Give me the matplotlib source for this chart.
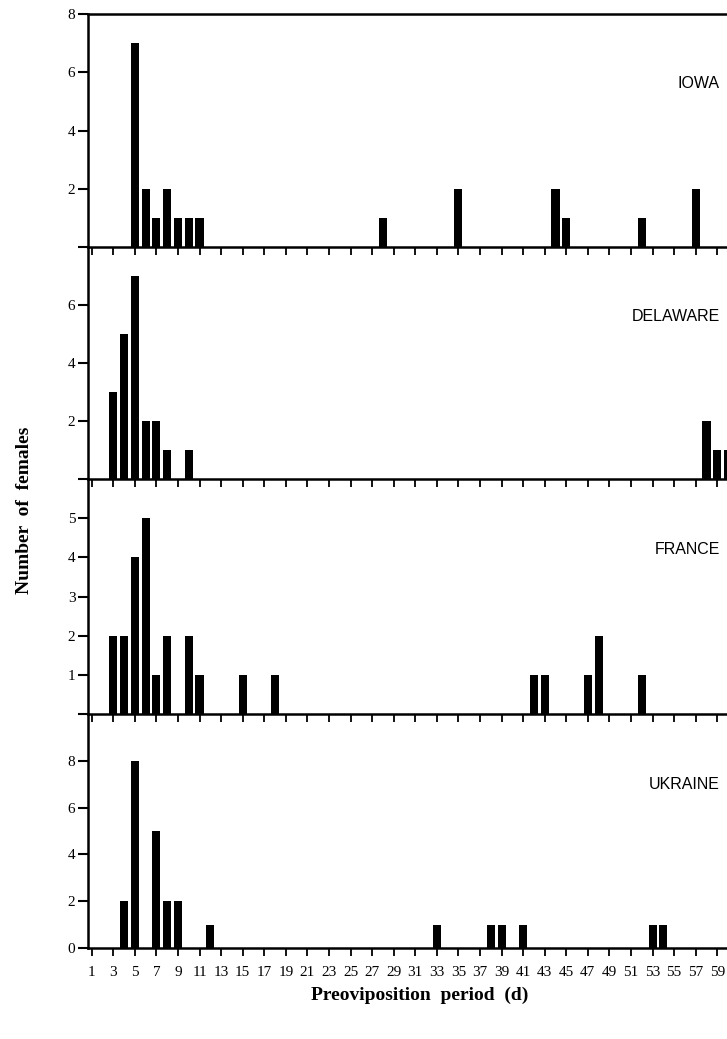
import matplotlib.pyplot as plt

# preoviposition period (days) and number of females, per population
iowa_days = [5, 6, 7, 8, 9, 10, 11, 28, 35, 44, 45, 52, 57]
iowa_n = [7, 2, 1, 2, 1, 1, 1, 1, 2, 2, 1, 1, 2]

delaware_days = [3, 4, 5, 6, 7, 8, 10, 58, 59, 60]
delaware_n = [3, 5, 7, 2, 2, 1, 1, 2, 1, 1]

france_days = [3, 4, 5, 6, 7, 8, 10, 11, 15, 18, 42, 43, 47, 48, 52]
france_n = [2, 2, 4, 5, 1, 2, 2, 1, 1, 1, 1, 1, 1, 2, 1]

ukraine_days = [4, 5, 7, 8, 9, 12, 33, 38, 39, 41, 53, 54]
ukraine_n = [2, 8, 5, 2, 2, 1, 1, 1, 1, 1, 1, 1]

names = ["IOWA", "DELAWARE", "FRANCE", "UKRAINE"]
days = [iowa_days, delaware_days, france_days, ukraine_days]
counts = [iowa_n, delaware_n, france_n, ukraine_n]
ymax = [8, 8, 6, 10]
yticks = [[0, 2, 4, 6, 8], [0, 2, 4, 6], [0, 1, 2, 3, 4, 5], [0, 2, 4, 6, 8]]
show_zero = [False, False, False, True]
xticks = list(range(1, 60, 2))

W, H = 727, 1039
fig = plt.figure(figsize=(W / 100, H / 100), dpi=100)

left = 88 / W
right = 1.0
tops = [14, 247, 479, 714, 948]

for i in range(4):
    y0 = 1 - tops[i + 1] / H
    h = (tops[i + 1] - tops[i]) / H
    ax = fig.add_axes([left, y0, right - left, h])
    ax.patch.set_visible(False)  # so the lower panel does not hide the ticks above it

    ax.bar(days[i], counts[i], width=0.75, color="black", zorder=3)
    ax.set_xlim(0.66, 59.9)
    ax.set_ylim(0, ymax[i])

    ax.spines["right"].set_visible(False)
    if i > 0:
        ax.spines["top"].set_visible(False)
    for s in ["left", "bottom", "top"]:
        ax.spines[s].set_linewidth(1.8)

    ax.set_yticks(yticks[i])
    labels = [str(t) for t in yticks[i]]
    if not show_zero[i]:
        labels[0] = ""
    ax.set_yticklabels(labels, fontfamily="Liberation Serif", fontsize=11)
    ax.tick_params(axis="y", direction="out", length=7, width=1.5, pad=2)

    ax.set_xticks(xticks)
    if i == 3:
        ax.set_xticklabels([str(t) for t in xticks], fontfamily="Liberation Serif", fontsize=11)
    else:
        ax.set_xticklabels([])
    ax.tick_params(axis="x", direction="out", length=6, width=1.3, pad=7)

    ax.text(0.989, 0.70, names[i], transform=ax.transAxes, ha="right", va="center",
            fontfamily="Liberation Sans", fontsize=11.5)

fig.text(25 / W, 1 - 510 / H, "Number  of  females", rotation=90, ha="center", va="center",
         fontfamily="Liberation Serif", fontweight="bold", fontsize=14)
fig.text(420 / W, 1 - 995 / H, "Preoviposition  period  (d)", ha="center", va="center",
         fontfamily="Liberation Serif", fontweight="bold", fontsize=14)

fig.savefig("out.png", dpi=100)
